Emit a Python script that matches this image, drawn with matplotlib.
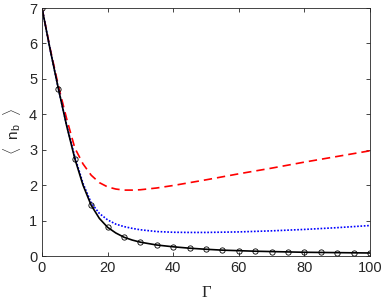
import matplotlib
matplotlib.use("Agg")
import matplotlib.pyplot as plt

plt.rcParams['font.family'] = ['Liberation Sans', 'DejaVu Sans']
plt.rcParams['mathtext.fontset'] = 'custom'
plt.rcParams['mathtext.rm'] = 'Liberation Sans'
plt.rcParams['mathtext.it'] = 'Liberation Sans'

# exact curve (black solid)
gamma_exact = [0, 2.5, 5, 7.5, 10, 12.5, 15, 17.5, 20, 22.5, 25, 27.5, 30, 35, 40, 45,
               50, 55, 60, 65, 70, 75, 80, 85, 90, 95, 100]
nb_exact = [7.0, 5.82, 4.72, 3.68, 2.75, 2.0, 1.43, 1.06, 0.81, 0.65, 0.53, 0.45, 0.39,
            0.31, 0.26, 0.22, 0.19, 0.165, 0.15, 0.135, 0.125, 0.115, 0.105, 0.1, 0.095,
            0.09, 0.085]

# circle markers every 5
gamma_marks = [0, 5, 10, 15, 20, 25, 30, 35, 40, 45, 50, 55, 60, 65, 70, 75, 80, 85, 90, 95, 100]
nb_marks = [7.0, 4.72, 2.75, 1.43, 0.81, 0.53, 0.39, 0.31, 0.26, 0.22, 0.19, 0.165, 0.15,
            0.135, 0.125, 0.115, 0.105, 0.1, 0.095, 0.09, 0.085]

# red dashed approximation
gamma_red = [0, 2.5, 5, 7.5, 10, 12.5, 15, 17.5, 20, 22.5, 25, 27.5, 30, 35, 40, 50,
             60, 70, 80, 90, 100]
nb_red = [7.0, 5.85, 4.8, 3.88, 3.05, 2.6, 2.28, 2.07, 1.95, 1.89, 1.86, 1.86, 1.87,
          1.92, 1.99, 2.15, 2.32, 2.48, 2.65, 2.81, 2.97]

# blue dotted approximation
gamma_blue = [0, 2.5, 5, 7.5, 10, 12.5, 15, 17.5, 20, 22.5, 25, 27.5, 30, 35, 40, 45,
              50, 60, 70, 80, 90, 100]
nb_blue = [7.0, 5.82, 4.72, 3.7, 2.8, 2.05, 1.5, 1.2, 1.02, 0.9, 0.83, 0.78, 0.74,
           0.69, 0.67, 0.665, 0.665, 0.68, 0.71, 0.75, 0.8, 0.86]

fig = plt.figure(figsize=(3.82, 3.01), dpi=100)
ax = fig.add_axes([42 / 382, 45 / 301, 328 / 382, 248 / 301])

ax.plot(gamma_red, nb_red, color='red', linestyle=(0, (5, 3)), linewidth=1.2)
ax.plot(gamma_blue, nb_blue, color='blue', linestyle=(0, (1, 1)), linewidth=1.2)
ax.plot(gamma_exact, nb_exact, color='black', linewidth=1.2)
ax.plot(gamma_marks, nb_marks, linestyle='none', marker='o', markersize=3.8,
        markerfacecolor='none', markeredgecolor='black', markeredgewidth=0.6)

ax.set_xlim(0, 100)
ax.set_ylim(0, 7)
ax.set_xticks([0, 20, 40, 60, 80, 100])
ax.set_yticks([0, 1, 2, 3, 4, 5, 6, 7])
ax.tick_params(direction='in', top=True, right=True, labelsize=10.5,
               colors='#262626', length=3, width=0.6)
for s in ax.spines.values():
    s.set_color('#262626')
    s.set_linewidth(0.6)

ax.set_xlabel('Γ', fontsize=12, family='Liberation Serif', color='#262626', labelpad=7)
ax.set_ylabel(r'$\langle$  n$_\mathrm{b}$  $\rangle$', fontsize=11, color='#262626', labelpad=4)

fig.savefig('out.png', dpi=100)
